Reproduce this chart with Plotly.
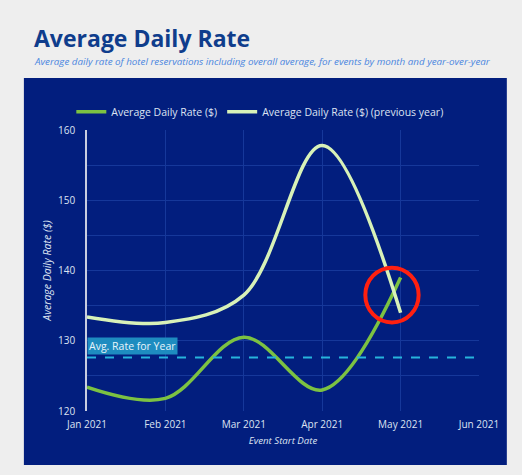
import plotly.graph_objects as go

months = ["Jan 2021", "Feb 2021", "Mar 2021", "Apr 2021", "May 2021", "Jun 2021"]
rate_current = [123.4, 121.8, 130.5, 123.0, 139.0]
rate_previous = [133.4, 132.6, 136.5, 157.8, 134.0]
avg_rate_year = 127.6

NAVY = "#021e7e"
GRID = "#16389a"
TXT = "#dde3f2"
FONT = "Open Sans"

xs = list(range(len(months)))

fig = go.Figure()
fig.add_trace(go.Scatter(
    x=xs[:len(rate_current)], y=rate_current, name="Average Daily Rate ($)",
    mode="lines", line=dict(color="#7cc242", width=3.5, shape="spline", smoothing=1.0),
))
fig.add_trace(go.Scatter(
    x=xs[:len(rate_previous)], y=rate_previous, name="Average Daily Rate ($) (previous year)",
    mode="lines", line=dict(color="#d8f2b8", width=3.5, shape="spline", smoothing=1.0),
))
fig.add_trace(go.Scatter(
    x=[xs[0], xs[-1]], y=[avg_rate_year, avg_rate_year], mode="lines", showlegend=False,
    line=dict(color="#27b4dc", width=2, dash="dash"), hoverinfo="skip",
))

# dark panel behind the chart
fig.add_shape(type="rect", xref="paper", yref="paper", x0=-0.161, x1=1.071, y0=-0.192, y1=1.185,
              fillcolor=NAVY, line=dict(width=0), layer="below")

# red highlight circle
fig.add_shape(type="circle", xref="x", yref="y", x0=3.55, x1=4.23, y0=132.6, y1=140.4,
              line=dict(color="#ff2010", width=4))

fig.add_annotation(x=0, y=avg_rate_year, xref="x", yref="y", text="Avg. Rate for Year",
                   showarrow=False, xanchor="left", yanchor="bottom", yshift=3,
                   bgcolor="#1e8cc0", font=dict(family=FONT, size=10.5, color="#e8f4fb"),
                   borderpad=1)

fig.add_annotation(x=-0.14, y=1.327, xref="paper", yref="paper", text="<b>Average Daily Rate</b>",
                   showarrow=False, xanchor="left", yanchor="middle",
                   font=dict(family=FONT, size=23, color="#0f3d8c"))
fig.add_annotation(x=-0.14, y=1.242, xref="paper", yref="paper",
                   text="<i>Average daily rate of hotel reservations including overall average, for events by month and year-over-year</i>",
                   showarrow=False, xanchor="left", yanchor="middle",
                   font=dict(family=FONT, size=9.8, color="#4a86e0"))

fig.update_layout(
    width=522, height=475,
    margin=dict(l=87, r=43, t=130, b=64),
    paper_bgcolor="#eeeeee", plot_bgcolor=NAVY,
    font=dict(family=FONT, color=TXT, size=10),
    legend=dict(orientation="h", x=-0.04, xanchor="left", y=1.065, yanchor="middle",
                font=dict(size=10.5, color=TXT), bgcolor="rgba(0,0,0,0)"),
    xaxis=dict(range=[0, 5], tickmode="array", tickvals=xs, ticktext=months,
               showgrid=True, gridcolor=GRID, zeroline=False, showline=False,
               tickfont=dict(size=10, color=TXT), ticks="", ticklabelstandoff=6,
               title=dict(text="<i>Event Start Date</i>", font=dict(size=9.7, color=TXT), standoff=7)),
    yaxis=dict(range=[120, 160], dtick=10, showgrid=True, gridcolor=GRID, zeroline=False,
               showline=True, linecolor="#c8cde0", linewidth=1.5,
               minor=dict(dtick=5, showgrid=True, gridcolor=GRID),
               tickfont=dict(size=10, color=TXT), ticks="", ticklabelstandoff=8,
               title=dict(text="<i>Average Daily Rate ($)</i>", font=dict(size=10.5, color=TXT), standoff=4)),
    showlegend=True,
)

fig.write_html("out.html", config={"displayModeBar": False},
               post_script="document.body.style.margin='0';document.body.style.background='#eeeeee';")
